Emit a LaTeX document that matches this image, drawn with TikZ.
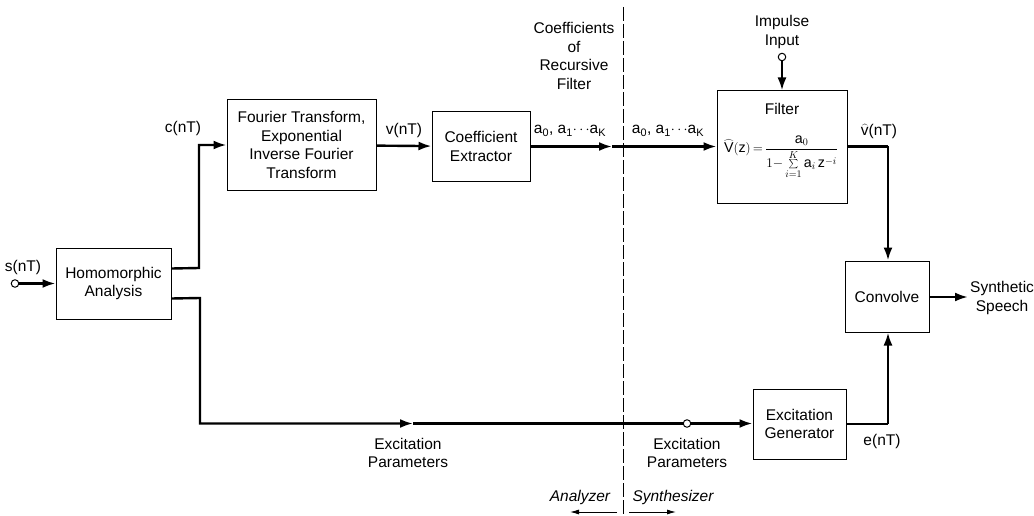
\documentclass[tikz,border=0pt]{standalone}
\usepackage{fontspec}
\usepackage{graphicx}
\setmainfont{Liberation Sans}
\usetikzlibrary{arrows.meta}

\tikzset{
  block/.style={draw, line width=1pt, align=center, inner sep=2pt},
  wire/.style={line width=2.4pt},
  arr/.style={-{Latex[length=13pt,width=9pt]}},
  port/.style={circle, draw, line width=1pt, fill=white, inner sep=0pt, minimum size=7.5pt},
  lbl/.style={align=center, inner sep=0pt},
  divider/.style={line width=0.8pt, dash pattern=on 14pt off 3pt},
}

\begin{document}
\begin{tikzpicture}[x=1pt, y=-1pt, font=\fontsize{15.5}{18.5}\selectfont]

\useasboundingbox (0,0) rectangle (1034,516);

% blocks
\node [block, minimum width=115pt, minimum height=71pt] (homo) at (113.5,283.5) {Homomorphic\\Analysis};
\node [block, minimum width=149pt, minimum height=91pt] (fourier) at (301.5,145) {Fourier Transform,\\Exponential\\Inverse Fourier\\Transform};
\node [block, minimum width=98pt, minimum height=70pt] (coef) at (481,146.5) {Coefficient\\Extractor};
\node [block, minimum width=130pt, minimum height=112pt] (filter) at (782,147) {};
\node [block, minimum width=84pt, minimum height=71pt] (conv) at (887,296.5) {Convolve};
\node [block, minimum width=93pt, minimum height=70pt] (excgen) at (799.5,424) {Excitation\\Generator};

% filter contents
\node [lbl] (filtername) at (782,109) {Filter};
\node [lbl] (filtereq) at (781,157) {\scalebox{0.92}{$\displaystyle\widehat{\mathrm{V}}(\mathrm{z})\,{=}\,\frac{\mathrm{a}_0}{1{-}\sum\limits_{i=1}^{K}\mathrm{a}_i\,\mathrm{z}^{-i}}$}};

% open terminals
\node [port] (sin) at (15,283.5) {};
\node [port] (imp) at (782,57) {};
\node [port] (exc) at (687,423.5) {};

\coordinate (cup) at (199,268);
\coordinate (cdown) at (200,298);
\coordinate (pmid) at (413,423.5);
\coordinate (amid) at (612,146.5);
\coordinate (vturn) at (888,146.5);
\coordinate (eturn) at (888,424);
\coordinate (speech) at (968,297);

% signal paths
\draw [wire, arr] (sin) -- (homo);
\draw [wire, arr] ([yshift=15pt]homo.east) -- (cup) |- (fourier.west);
\draw [wire, arr] (fourier) -- (coef);
\draw [wire, arr] (coef.east) -- (amid);
\draw [wire, arr] (amid) -- (amid -| filter.west);
\draw [wire, arr] (imp) -- (imp |- filter.north);
\draw [wire] (filter.east |- vturn) -- (vturn);
\draw [wire, arr] (vturn) -- (conv.north -| vturn);
\draw [wire, arr] ([yshift=-15pt]homo.east) -- (cdown) |- (pmid);
\draw [wire] (pmid) -- (exc);
\draw [wire, arr] (exc) -- (exc -| excgen.west);
\draw [wire] (excgen.east |- eturn) -- (eturn);
\draw [wire, arr] (eturn) -- (conv.south -| eturn);
\draw [wire, arr] (conv.east |- speech) -- (speech);

% analyzer / synthesizer split
\coordinate (divtop) at (623,7);
\coordinate (divbot) at (623,516);
\draw [divider] (divtop) -- (divbot);
\coordinate (lleft) at (617,512);
\coordinate (rright) at (629,512);
\draw [line width=0.9pt, -{Latex[length=9pt,width=5pt]}] (lleft) -- ++(-47,0);
\draw [line width=0.9pt, -{Latex[length=9pt,width=5pt]}] (rright) -- ++(47,0);

% labels
\node [lbl] (sname) at (23,267) {s(nT)};
\node [lbl] (cname) at (183,128) {c(nT)};
\node [lbl] (vname) at (404,130) {v(nT)};
\node [lbl] (coefhead) at (574,56) {Coefficients\\of\\Recursive\\Filter};
\node [lbl] (aleft) at (570,131) {a\textsubscript{0}, a\textsubscript{1}$\cdots$a\textsubscript{K}};
\node [lbl] (aright) at (668,131) {a\textsubscript{0}, a\textsubscript{1}$\cdots$a\textsubscript{K}};
\node [lbl] (impname) at (782,32) {Impulse\\Input};
\node [lbl] (vhat) at (879,131) {$\widehat{\mathrm{v}}$(nT)};
\node [lbl, anchor=west] (outname) at (970,298) {Synthetic\\Speech};
\node [lbl] (ename) at (882,441) {e(nT)};
\node [lbl] (pleft) at (408,453) {Excitation\\Parameters};
\node [lbl] (pright) at (687,453) {Excitation\\Parameters};
\node [lbl, font=\fontsize{15.5}{18.5}\selectfont\itshape] (anname) at (580,497) {Analyzer};
\node [lbl, font=\fontsize{15.5}{18.5}\selectfont\itshape] (synname) at (673,497) {Synthesizer};

\end{tikzpicture}
\end{document}
